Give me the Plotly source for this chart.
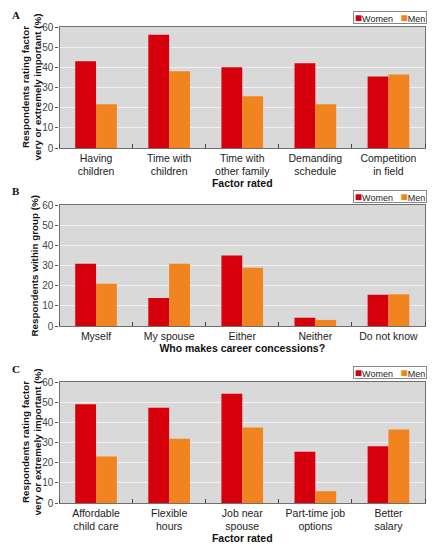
import plotly.graph_objects as go
from plotly.subplots import make_subplots

cats_a = ["Having<br>children", "Time with<br>children", "Time with<br>other family", "Demanding<br>schedule", "Competition<br>in field"]
women_a = [43, 56.2, 40, 42, 35.5]
men_a = [21.7, 38, 25.6, 21.7, 36.4]

cats_b = ["Myself", "My spouse", "Either", "Neither", "Do not know"]
women_b = [30.9, 13.9, 34.9, 4.1, 15.5]
men_b = [21, 30.9, 28.9, 3, 15.7]

cats_c = ["Affordable<br>child care", "Flexible<br>hours", "Job near<br>spouse", "Part-time job<br>options", "Better<br>salary"]
women_c = [49, 47.2, 54.2, 25.4, 28.1]
men_c = [23.1, 31.9, 37.5, 5.8, 36.4]

yticks = [0, 10, 20, 30, 40, 50, 60]
series_names = ["Women", "Men"]
panel_labels = ["A", "B", "C"]
xtitles = ["Factor rated", "Who makes career concessions?", "Factor rated"]
ytitles = ["Respondents rating factor<br>very or extremely important (%)",
           "Respondents within group (%)",
           "Respondents rating factor<br>very or extremely important (%)"]

W, H = 447, 551
RED = "#d6000c"
ORANGE = "#f2841f"
FONT = "Liberation Sans, Arial, sans-serif"

fig = make_subplots(rows=3, cols=1)

panels = [(cats_a, women_a, men_a), (cats_b, women_b, men_b), (cats_c, women_c, men_c)]
pix = [(27, 148), (205, 326), (382, 503)]
legend_mid = [17.5, 196.5, 372.5]
label_y = [15, 191, 369]
ytitle_x = [31, 34, 31]
x0, x1 = 59.5, 425

for i, (cats, w, m) in enumerate(panels):
    r = i + 1
    xs = list(range(len(cats)))
    fig.add_trace(go.Bar(x=xs, y=w, name=series_names[0], marker=dict(color=RED, line=dict(width=0)),
                         showlegend=False), row=r, col=1)
    fig.add_trace(go.Bar(x=xs, y=m, name=series_names[1], marker=dict(color=ORANGE, line=dict(width=0)),
                         showlegend=False), row=r, col=1)
    top, bot = pix[i]
    ax = "" if i == 0 else str(r)
    fig.layout[f"yaxis{ax}"].update(
        domain=[1 - bot / H, 1 - top / H], range=[0, 60], tickvals=yticks,
        showgrid=True, gridcolor="#efefef", gridwidth=1.3, zeroline=False,
        ticks="outside", ticklen=3, tickcolor="#555", automargin=False,
        tickfont=dict(size=10, color="#444", family=FONT),
        showline=True, linecolor="#707070", linewidth=1.3, mirror=True,
    )
    fig.add_annotation(text=f"<b>{ytitles[i]}</b>", xref="paper", yref="paper",
                       x=ytitle_x[i] / W, y=1 - (top + bot) / 2 / H, xanchor="center", yanchor="middle",
                       textangle=-90, showarrow=False,
                       font=dict(size=9.8, color="#111", family=FONT))
    fig.layout[f"xaxis{ax}"].update(
        domain=[x0 / W, x1 / W], range=[-0.5, len(cats) - 0.5], automargin=False,
        tickvals=xs, ticktext=cats, ticks="", showgrid=False, zeroline=False,
        tickfont=dict(size=10.5, color="#222", family=FONT),
        showline=True, linecolor="#707070", linewidth=1.3, mirror=True,
        minor=dict(tick0=0.5, dtick=1, ticks="inside", ticklen=4, tickcolor="#444", showgrid=False),
        title=dict(text=f"<b>{xtitles[i]}</b>", font=dict(size=10.5, color="#111", family=FONT), standoff=0),
    )
    legend_text = (f"<span style='color:{RED};font-size:12px'>■</span>{series_names[0]}&nbsp;&nbsp;&nbsp;"
                   f"<span style='color:{ORANGE};font-size:12px'>■</span>{series_names[1]}")
    fig.add_annotation(text=legend_text, xref="paper", yref="paper",
                       x=427 / W, y=1 - legend_mid[i] / H, xanchor="right", yanchor="middle",
                       width=72, height=11, align="center", valign="middle",
                       showarrow=False, bgcolor="white", bordercolor="#888", borderwidth=1, borderpad=0,
                       font=dict(size=9, color="#222", family=FONT))
    fig.add_annotation(text=f"<b>{panel_labels[i]}</b>", xref="paper", yref="paper",
                       x=10 / W, y=1 - label_y[i] / H, xanchor="left", yanchor="middle",
                       showarrow=False, font=dict(size=11, family="Liberation Serif, serif", color="#111"))

fig.update_layout(
    width=W, height=H, margin=dict(l=0, r=0, t=0, b=0),
    paper_bgcolor="white", plot_bgcolor="#d9d9d9",
    barmode="group", bargap=0.43, bargroupgap=0,
    showlegend=False,
)

fig.write_html("out.html", config={"displayModeBar": False},
               post_script="document.body.style.margin='0px';")
